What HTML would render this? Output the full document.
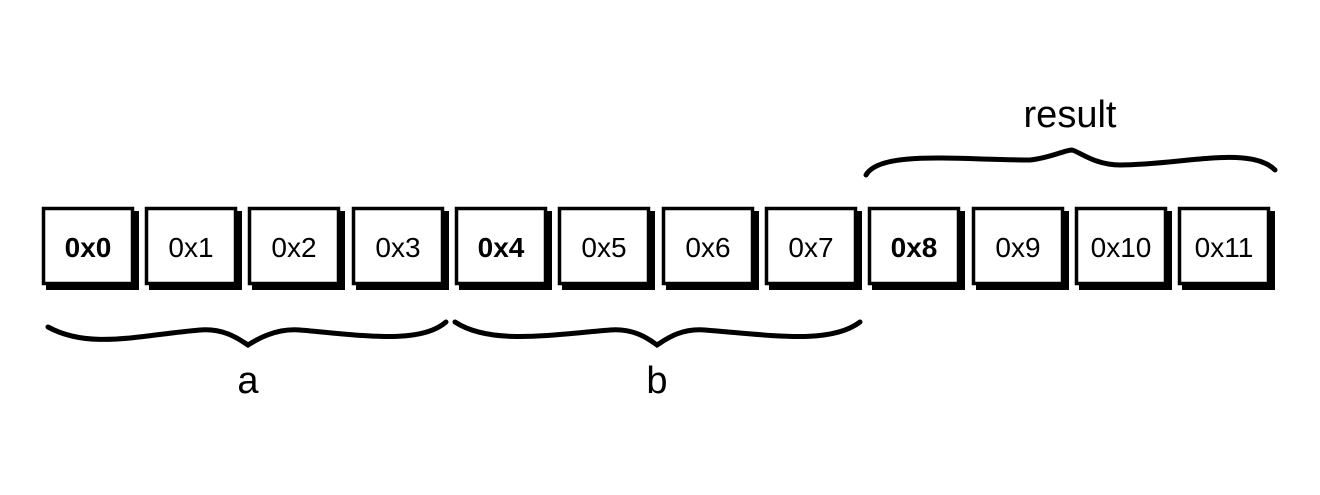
<!DOCTYPE html>
<html><head><style>
body{margin:0;background:#fff;width:1320px;height:490px;overflow:hidden}
</style></head><body>
<svg width="1320" height="490" xmlns="http://www.w3.org/2000/svg" font-family="Liberation Sans, sans-serif">
<g fill="#000">
<rect x="46" y="211" width="93" height="79"/><rect x="149" y="211" width="93" height="79"/><rect x="252" y="211" width="93" height="79"/><rect x="356" y="211" width="93" height="79"/>
<rect x="459" y="211" width="93" height="79"/><rect x="562" y="211" width="93" height="79"/><rect x="666" y="211" width="93" height="79"/><rect x="769" y="211" width="93" height="79"/>
<rect x="872" y="211" width="93" height="79"/><rect x="976" y="211" width="93" height="79"/><rect x="1079" y="211" width="93" height="79"/><rect x="1182" y="211" width="93" height="79"/>
</g>
<g fill="#fff" stroke="#000" stroke-width="3.5">
<rect x="43.5" y="208.5" width="89" height="75"/><rect x="146.5" y="208.5" width="89" height="75"/><rect x="249.5" y="208.5" width="89" height="75"/><rect x="353.5" y="208.5" width="89" height="75"/>
<rect x="456.5" y="208.5" width="89" height="75"/><rect x="559.5" y="208.5" width="89" height="75"/><rect x="663.5" y="208.5" width="89" height="75"/><rect x="766.5" y="208.5" width="89" height="75"/>
<rect x="869.5" y="208.5" width="89" height="75"/><rect x="973.5" y="208.5" width="89" height="75"/><rect x="1076.5" y="208.5" width="89" height="75"/><rect x="1179.5" y="208.5" width="89" height="75"/>
</g>
<g font-size="28" text-anchor="middle">
<text x="88" y="257" font-weight="bold">0x0</text>
<text x="191" y="257">0x1</text>
<text x="294" y="257">0x2</text>
<text x="398" y="257">0x3</text>
<text x="501" y="257" font-weight="bold">0x4</text>
<text x="604" y="257">0x5</text>
<text x="708" y="257">0x6</text>
<text x="811" y="257">0x7</text>
<text x="914" y="257" font-weight="bold">0x8</text>
<text x="1018" y="257">0x9</text>
<text x="1121" y="257">0x10</text>
<text x="1224" y="257">0x11</text>
</g>
<g fill="none" stroke="#000" stroke-width="5" stroke-linecap="round">
<path d="M48 327 C90 350,140 335,200 330 C225 328,240 340,248 345 C256 340,275 328,300 330 C360 335,420 345,446 322"/>
<path d="M455 322 C490 345,550 335,610 330 C635 328,650 340,657 345 C665 340,680 328,705 330 C770 335,830 345,860 322"/>
<path d="M866 175 C880 150,960 160,1030 160 C1050 158,1065 150,1072 150 C1080 152,1095 165,1120 165 C1180 165,1250 145,1275 170"/>
</g>
<text x="248" y="393" text-anchor="middle" font-size="38">a</text>
<text x="657" y="393" text-anchor="middle" font-size="38">b</text>
<text x="1070" y="127" text-anchor="middle" font-size="38">result</text>
</svg>
</body></html>
